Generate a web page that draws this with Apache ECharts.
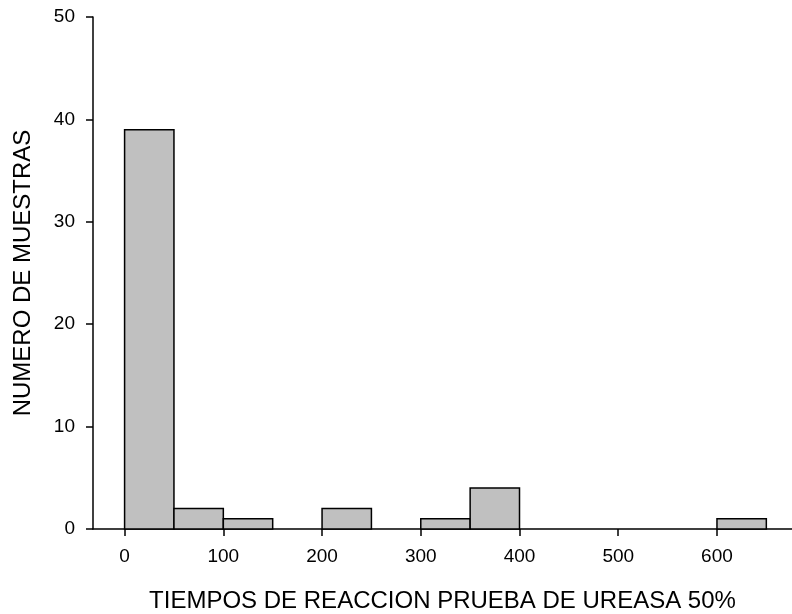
<!DOCTYPE html>
<html>
<head>
<meta charset="utf-8">
<script src="https://cdn.jsdelivr.net/npm/echarts@6/dist/echarts.min.js"></script>
<style>
  html, body { margin: 0; padding: 0; background: #fff; }
  #chart { width: 792px; height: 614px; }
</style>
</head>
<body>
<div id="chart"></div>
<script>
// Histogram bins: [start, end) in reaction time, and sample counts per bin
const binStarts = [0, 50, 100, 200, 300, 350, 600];
const binEnds   = [50, 100, 150, 250, 350, 400, 650];
const counts    = [39, 2, 1, 2, 1, 4, 1];

const xTicks = [0, 100, 200, 300, 400, 500, 600];

const xTitle = 'TIEMPOS DE REACCION PRUEBA DE UREASA 50%';
const yTitle = 'NUMERO DE MUESTRAS';

const data = binStarts.map((s, i) => [s, binEnds[i], counts[i]]);

const chart = echarts.init(document.getElementById('chart'));
const font = '"Liberation Sans", Arial, sans-serif';

chart.setOption({
  animation: false,
  grid: { left: 93, right: 0, top: 17, bottom: 85, containLabel: false, outerBoundsMode: 'none' },
  xAxis: {
    type: 'value',
    min: -32,
    max: 676,
    name: xTitle,
    nameLocation: 'middle',
    nameGap: 60,
    nameTextStyle: { fontFamily: font, fontSize: 24, color: '#000' },
    axisLine: { show: true, onZero: false, lineStyle: { color: '#000', width: 1.5 } },
    axisTick: { show: true, length: 7, customValues: xTicks, lineStyle: { color: '#000', width: 1.5 } },
    axisLabel: { customValues: xTicks, margin: 18, fontFamily: font, fontSize: 19, color: '#000' },
    splitLine: { show: false }
  },
  yAxis: {
    type: 'value',
    min: 0,
    max: 50,
    interval: 10,
    name: yTitle,
    nameLocation: 'middle',
    nameGap: 58,
    nameTextStyle: { fontFamily: font, fontSize: 24, color: '#000' },
    axisLine: { show: true, onZero: false, lineStyle: { color: '#000', width: 1.5 } },
    axisTick: { show: true, length: 7, lineStyle: { color: '#000', width: 1.5 } },
    axisLabel: { margin: 18, fontFamily: font, fontSize: 19, color: '#000' },
    splitLine: { show: false }
  },
  series: [{
    type: 'custom',
    data: data,
    encode: { x: [0, 1], y: 2 },
    renderItem: function (params, api) {
      const p0 = api.coord([api.value(0), 0]);
      const p1 = api.coord([api.value(1), api.value(2)]);
      return {
        type: 'rect',
        shape: { x: p0[0], y: p1[1], width: p1[0] - p0[0], height: p0[1] - p1[1] },
        style: { fill: '#c0c0c0', stroke: '#000', lineWidth: 1.5 }
      };
    }
  }]
});
</script>
</body>
</html>
